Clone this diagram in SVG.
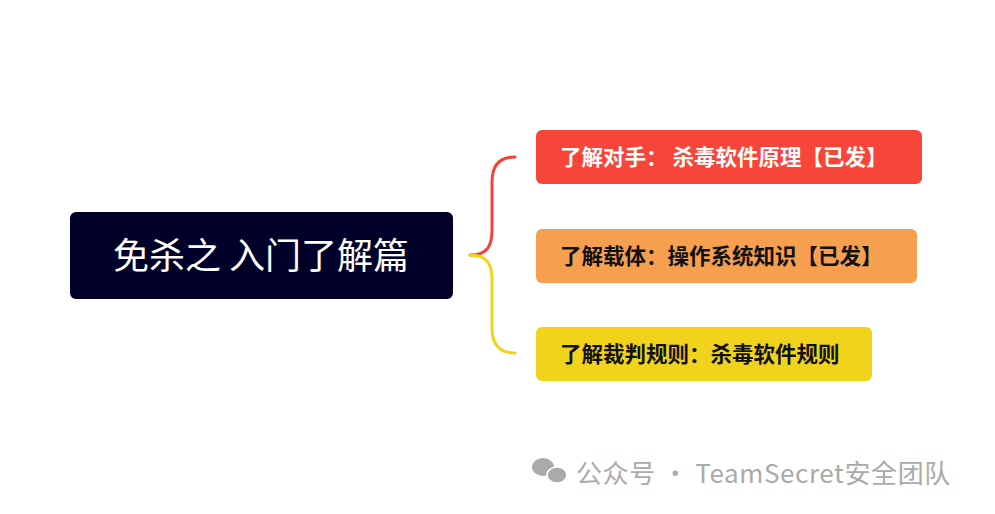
<svg xmlns="http://www.w3.org/2000/svg" width="995" height="514" viewBox="0 0 995 514">
<style>
.t{font-family:"Noto Sans CJK SC",sans-serif;font-weight:bold;font-size:21.5px;fill:#111}
.c{fill:none;stroke-width:3;stroke-linecap:round}
</style>
<rect width="995" height="514" fill="#fff"/>
<g id="root"><rect x="70" y="212" width="383" height="87" rx="6" fill="#000029"/>
<text x="261" y="269" text-anchor="middle" font-family="Noto Sans CJK SC,sans-serif" font-size="36" fill="#fff">免杀之 入门了解篇</text></g>
<g id="connectors">
<path class="c" stroke="#f44336" d="M470 255 C488 255 492 245 492 230 V182 C492 165 500 157 515 157"/>
<path class="c" stroke="#f2d31c" d="M470 255 C488 255 492 265 492 280 V328 C492 345 500 353 515 353"/>
</g>
<g id="n1"><rect x="536" y="130" width="386" height="54" rx="6" fill="#f7453a"/>
<text class="t" x="560" y="165" style="fill:#fff">了解对手： 杀毒软件原理【已发】</text></g>
<g id="n2"><rect x="536" y="229" width="381" height="54" rx="6" fill="#f59f4f"/>
<text class="t" x="560" y="264">了解载体：操作系统知识【已发】</text></g>
<g id="n3"><rect x="536" y="327" width="336" height="54" rx="6" fill="#f2d31c"/>
<text class="t" x="560" y="362">了解裁判规则：杀毒软件规则</text></g>
<g id="watermark" fill="#aaa">
<ellipse cx="543" cy="467" rx="11" ry="9"/>
<ellipse cx="557" cy="475" rx="10" ry="8" stroke="#fff" stroke-width="1.5"/>
<text x="576" y="483" font-family="Noto Sans CJK SC,sans-serif" font-size="26" letter-spacing="0.6" fill="#aaa">公众号 · TeamSecret安全团队</text>
</g>
</svg>
